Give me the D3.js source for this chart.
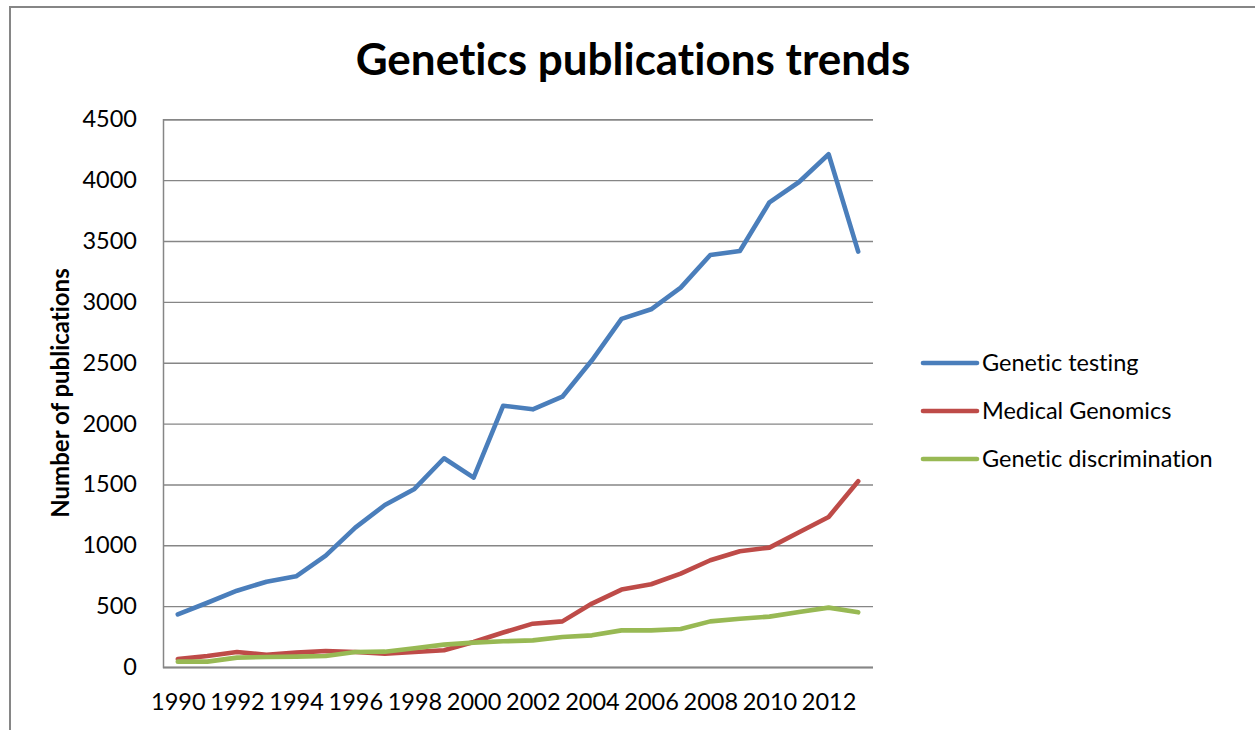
<!DOCTYPE html>
<html>
<head>
<meta charset="utf-8">
<script src="https://cdn.jsdelivr.net/npm/d3@7"></script>
<style>
  html, body { margin: 0; padding: 0; background: #fff; }
  svg { display: block; }
  text { font-family: Lato, "Open Sans", sans-serif; fill: #000; font-variant-ligatures: none; }
</style>
</head>
<body>
<svg id="chart" width="1255" height="730"></svg>
<script>
// Publication counts per year
const years = d3.range(1990, 2014);
const geneticTesting = [433, 528, 627, 701, 745, 915, 1145, 1331, 1463, 1715, 1556, 2147,
  2117, 2221, 2520, 2860, 2939, 3117, 3385, 3418, 3818, 3985, 4213, 3413];
const medicalGenomics = [65, 90, 123, 100, 118, 132, 123, 110, 123, 137, 205, 283,
  356, 375, 521, 636, 680, 767, 877, 951, 981, 1107, 1233, 1526];
const geneticDiscrimination = [44, 44, 77, 82, 85, 90, 123, 126, 154, 184, 200, 211,
  219, 247, 260, 301, 301, 312, 375, 397, 414, 452, 488, 449];
const seriesNames = ["Genetic testing", "Medical Genomics", "Genetic discrimination"];
const seriesColors = ["#4a7ebb", "#be4b48", "#98b954"];
const yTicks = [0, 500, 1000, 1500, 2000, 2500, 3000, 3500, 4000, 4500];
const xTickYears = d3.range(1990, 2013, 2);

const series = [geneticTesting, medicalGenomics, geneticDiscrimination];

const svg = d3.select("#chart");
const labelSize = 23.5;

// Outer chart frame
svg.append("path")
  .attr("d", "M10,740 L10,7 L1265,7")
  .attr("fill", "none")
  .attr("stroke", "#868686")
  .attr("stroke-width", 2);

const plot = { left: 163, right: 873, top: 119.3, bottom: 667 };

const x = d3.scalePoint()
  .domain(years)
  .range([plot.left, plot.right])
  .padding(0.5);

const y = d3.scaleLinear()
  .domain([0, 4500])
  .range([plot.bottom, plot.top]);

// Horizontal gridlines + y labels
const yAxis = d3.axisLeft(y)
  .tickValues(yTicks)
  .tickSize(-(plot.right - plot.left))
  .tickPadding(26)
  .tickFormat(d3.format("d"));

const yG = svg.append("g")
  .attr("transform", `translate(${plot.left},0)`)
  .call(yAxis);
yG.select(".domain").attr("stroke", "#868686").attr("stroke-width", 1.5);
yG.selectAll(".tick line").attr("stroke", "#868686").attr("stroke-width", 1.4);
yG.selectAll(".tick text")
  .attr("font-size", labelSize)
  .attr("font-family", "Lato, sans-serif")
  .attr("fill", "#000");

// Category axis
const xAxis = d3.axisBottom(x)
  .tickValues(xTickYears)
  .tickSize(0)
  .tickPadding(26)
  .tickFormat(d3.format("d"));

const xG = svg.append("g")
  .attr("transform", `translate(0,${plot.bottom})`)
  .call(xAxis);
xG.select(".domain")
  .attr("d", `M${plot.left},0.5H${plot.right}`)
  .attr("stroke", "#868686").attr("stroke-width", 1.5);
xG.selectAll(".tick text")
  .attr("font-size", labelSize)
  .attr("font-family", "Lato, sans-serif")
  .attr("fill", "#000");

// Series lines
const line = d3.line()
  .x((d, i) => x(years[i]))
  .y(d => y(d));

svg.append("g")
  .selectAll("path")
  .data(series)
  .join("path")
  .attr("d", d => line(d))
  .attr("fill", "none")
  .attr("stroke", (d, i) => seriesColors[i])
  .attr("stroke-width", 4.6)
  .attr("stroke-linejoin", "round")
  .attr("stroke-linecap", "round");

// Title
svg.append("text")
  .attr("x", 633)
  .attr("y", 75)
  .attr("text-anchor", "middle")
  .attr("font-size", 44)
  .attr("font-weight", "bold")
  .text("Genetics publications trends");

// Y axis title
svg.append("text")
  .attr("transform", "translate(69,393) rotate(-90)")
  .attr("text-anchor", "middle")
  .attr("font-size", 24)
  .attr("font-weight", "bold")
  .text("Number of publications");

// Legend
const legend = svg.append("g");
const legendItems = legend.selectAll("g")
  .data(seriesNames)
  .join("g")
  .attr("transform", (d, i) => `translate(923,${363 + i * 48})`);
legendItems.append("line")
  .attr("x1", 0).attr("x2", 54)
  .attr("stroke", (d, i) => seriesColors[i])
  .attr("stroke-width", 4.6)
  .attr("stroke-linecap", "round");
legendItems.append("text")
  .attr("x", 59)
  .attr("dy", "0.35em")
  .attr("font-size", labelSize)
  .text(d => d);
</script>
</body>
</html>
